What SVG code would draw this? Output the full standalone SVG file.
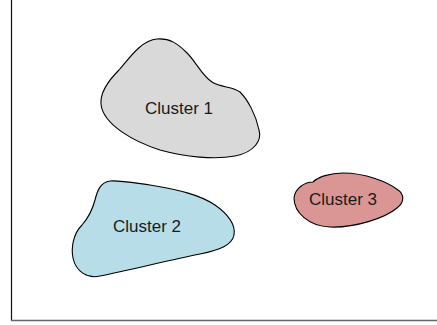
<svg xmlns="http://www.w3.org/2000/svg" width="437" height="325" viewBox="0 0 437 325">
  <style>
    .blob { stroke: #000; stroke-width: 1.1; stroke-linejoin: round; }
    .label { font-family: "Liberation Sans", Arial, sans-serif; font-size: 17px; fill: #1a1a1a; text-anchor: middle; }
  </style>
  <rect width="437" height="325" fill="#fff"/>
  <g id="axes">
    <line x1="11.5" y1="0" x2="11.5" y2="321" stroke="#111" stroke-width="1.2"/>
    <line x1="11" y1="320.5" x2="437" y2="320.5" stroke="#666" stroke-width="1.6"/>
  </g>
  <g id="cluster1">
    <path class="blob" fill="#d9d9d9" d="M157,39 C141,40 128,60 119,70 C108,81 100,92 101,104 C103,125 135,142 160,150 C185,157 215,160 235,156 C255,152 262,140 259,130 C256,115 248,100 240,92 C232,86 222,88 212,82 C202,76 195,60 186,52 C178,44 170,38 157,39 Z"/>
    <text class="label" x="179" y="114">Cluster 1</text>
  </g>
  <g id="cluster2">
    <path class="blob" fill="#b7dee8" d="M110,181 C100,182 97,192 95,200 C92,212 88,218 82,225 C73,234 71,248 73,258 C76,272 88,279 100,276 C130,270 170,260 200,254 C220,250 232,245 234,235 C236,225 228,214 215,205 C200,195 180,190 150,185 C135,183 118,180 110,181 Z"/>
    <text class="label" x="147" y="232">Cluster 2</text>
  </g>
  <g id="cluster3">
    <path class="blob" fill="#da9694" d="M343,173 C330,173 318,177 313,182 C305,182 295,188 294,198 C294,212 308,226 330,227 C355,228 385,218 397,208 C405,202 404,194 398,190 C388,182 365,173 343,173 Z"/>
    <text class="label" x="343" y="205">Cluster 3</text>
  </g>
</svg>
